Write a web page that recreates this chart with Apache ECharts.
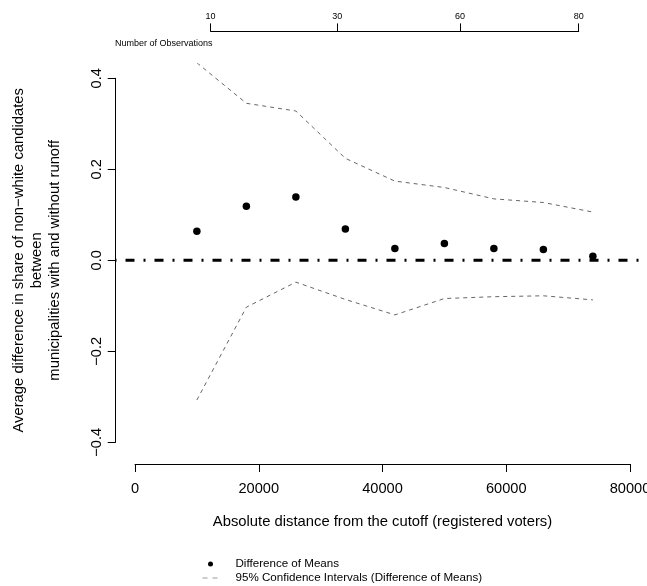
<!DOCTYPE html>
<html>
<head>
<meta charset="utf-8">
<script src="https://cdn.jsdelivr.net/npm/echarts@6/dist/echarts.min.js"></script>
<style>
html,body{margin:0;padding:0;background:#fff;}
#chart{width:647px;height:586px;}
</style>
</head>
<body>
<div id="chart"></div>
<script>
// ---- data ----
const distances = [10000, 18000, 26000, 34000, 42000, 50000, 58000, 66000, 74000];
const diffMeans = [0.064, 0.119, 0.139, 0.069, 0.026, 0.037, 0.026, 0.024, 0.009];
const ciUpper = [0.434, 0.345, 0.328, 0.224, 0.174, 0.160, 0.135, 0.127, 0.106];
const ciLower = [-0.307, -0.103, -0.048, -0.086, -0.120, -0.084, -0.080, -0.078, -0.087];
const xTickValues = [0, 20000, 40000, 60000, 80000];
const xTickLabels = ['0', '20000', '40000', '60000', '80000'];
const yTickValues = [-0.4, -0.2, 0, 0.2, 0.4];
const yTickLabels = ['\u22120.4', '\u22120.2', '0.0', '0.2', '0.4'];
const obsTickPositions = [12220, 32700, 52520, 71710];
const obsTickLabels = ['10', '30', '60', '80'];
const zeroLine = [[-3200, 0], [83200, 0]];

const FONT = 'Liberation Sans, Arial, Helvetica, sans-serif';
const chart = echarts.init(document.getElementById('chart'), null, {renderer: 'canvas'});

function nearestLabel(values, labels, v) {
  let best = 0;
  for (let i = 0; i < values.length; i++) {
    if (Math.abs(values[i] - v) < Math.abs(values[best] - v)) best = i;
  }
  return labels[best];
}

const CI_NAME = '95% Confidence Intervals (Difference of Means)';

const option = {
  animation: false,
  backgroundColor: '#ffffff',
  textStyle: {fontFamily: FONT, color: '#000'},
  title: {
    text: 'Number of Observations',
    left: 115,
    top: 39,
    padding: 0,
    textStyle: {fontFamily: FONT, fontSize: 9, fontWeight: 'normal', color: '#000'}
  },
  legend: {
    orient: 'vertical',
    left: 202,
    top: 558,
    padding: 0,
    itemWidth: 16,
    itemHeight: 5,
    itemGap: 2,
    textStyle: {fontFamily: FONT, fontSize: 11.6, color: '#000', padding: [0, 0, 0, 12], lineHeight: 12},
    data: [
      {name: 'Difference of Means'},
      {
        name: CI_NAME,
        itemStyle: {color: 'rgba(0,0,0,0)', borderWidth: 0, opacity: 0},
        lineStyle: {color: '#9a9a9a', width: 1, type: [5, 5]}
      }
    ]
  },
  grid: [
    // main plot region
    {left: 115.2, top: 63.7, width: 534.6, height: 393.2, containLabel: false, outerBoundsMode: 'none'},
    // bottom axis
    {left: 135, top: 454, width: 495, height: 10, containLabel: false, outerBoundsMode: 'none'},
    // left axis
    {left: 115.7, top: 78.3, width: 10, height: 364, containLabel: false, outerBoundsMode: 'none'},
    // top axis (number of observations)
    {left: 210.6, top: 31.4, width: 368.1, height: 10, containLabel: false, outerBoundsMode: 'none'}
  ],
  xAxis: [
    {gridIndex: 0, type: 'value', min: -3200, max: 83200, show: false},
    {
      gridIndex: 1, type: 'value', position: 'bottom', min: 0, max: 80000, interval: 20000,
      axisLine: {show: true, onZero: false, lineStyle: {color: '#000', width: 1}},
      axisTick: {show: true, length: 8, lineStyle: {color: '#000', width: 1}},
      splitLine: {show: false},
      axisLabel: {
        show: true, margin: 17, fontSize: 14.6, fontFamily: FONT, color: '#000',
        showMinLabel: true, showMaxLabel: true, hideOverlap: false,
        formatter: function (v) { return nearestLabel(xTickValues, xTickLabels, v); }
      },
      name: 'Absolute distance from the cutoff (registered voters)',
      nameLocation: 'middle',
      nameGap: 50,
      nameTextStyle: {fontSize: 14.8, fontFamily: FONT, color: '#000'}
    },
    {gridIndex: 2, type: 'value', show: false, min: 0, max: 1},
    {
      gridIndex: 3, type: 'value', position: 'top', min: obsTickPositions[0], max: obsTickPositions[obsTickPositions.length - 1],
      axisLine: {show: true, onZero: false, lineStyle: {color: '#000', width: 1}},
      axisTick: {show: true, length: 8, customValues: obsTickPositions, lineStyle: {color: '#000', width: 1}},
      splitLine: {show: false},
      axisLabel: {
        show: true, margin: 10, fontSize: 9, fontFamily: FONT, color: '#000',
        customValues: obsTickPositions,
        formatter: function (v) { return nearestLabel(obsTickPositions, obsTickLabels, v); }
      }
    }
  ],
  yAxis: [
    {gridIndex: 0, type: 'value', min: -0.432, max: 0.432, show: false},
    {gridIndex: 1, type: 'value', show: false, min: 0, max: 1},
    {
      gridIndex: 2, type: 'value', position: 'left', min: -0.4, max: 0.4, interval: 0.2,
      axisLine: {show: true, onZero: false, lineStyle: {color: '#000', width: 1}},
      axisTick: {show: true, length: 8, lineStyle: {color: '#000', width: 1}},
      splitLine: {show: false},
      axisLabel: {
        show: true, rotate: 90, margin: 11, fontSize: 14.6, fontFamily: FONT, color: '#000',
        formatter: function (v) { return nearestLabel(yTickValues, yTickLabels, v); }
      },
      name: 'Average difference in share of non\u2212white candidates\nbetween\nmunicipalities with and without runoff',
      nameLocation: 'middle',
      nameRotate: 90,
      nameGap: 52,
      nameTextStyle: {fontSize: 14.8, fontFamily: FONT, color: '#000', lineHeight: 18}
    },
    {gridIndex: 3, type: 'value', show: false, min: 0, max: 1}
  ],
  series: [
    {
      name: 'zero',
      type: 'line',
      xAxisIndex: 0, yAxisIndex: 0,
      data: zeroLine,
      symbol: 'none',
      silent: true,
      lineStyle: {color: '#000', width: 3, type: [9, 9, 2, 9], dashOffset: 18.7, cap: 'butt'},
      z: 1
    },
    {
      name: CI_NAME,
      type: 'line',
      xAxisIndex: 0, yAxisIndex: 0,
      data: distances.map((d, i) => [d, ciUpper[i]]),
      symbol: 'none',
      lineStyle: {color: '#666', width: 1, type: [4, 4]},
      itemStyle: {color: '#888'},
      z: 2
    },
    {
      name: CI_NAME,
      type: 'line',
      xAxisIndex: 0, yAxisIndex: 0,
      data: distances.map((d, i) => [d, ciLower[i]]),
      symbol: 'none',
      lineStyle: {color: '#666', width: 1, type: [4, 4]},
      itemStyle: {color: '#888'},
      z: 2
    },
    {
      name: 'Difference of Means',
      type: 'scatter',
      xAxisIndex: 0, yAxisIndex: 0,
      data: distances.map((d, i) => [d, diffMeans[i]]),
      symbol: 'circle',
      symbolSize: 7.5,
      itemStyle: {color: '#000', opacity: 1},
      z: 3
    }
  ]
};
chart.setOption(option);
</script>
</body>
</html>
